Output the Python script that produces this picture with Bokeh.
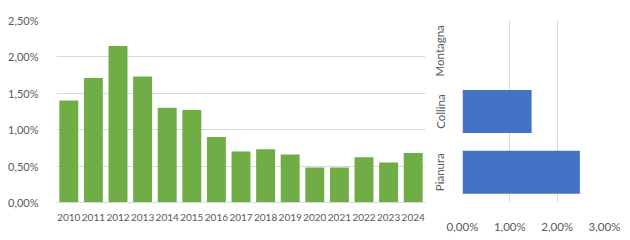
import math
from bokeh.plotting import figure
from bokeh.layouts import row
from bokeh.models import ColumnDataSource, CustomJSTickFormatter, FixedTicker
from bokeh.embed import file_html
from bokeh.resources import INLINE

years = ["2010", "2011", "2012", "2013", "2014", "2015", "2016", "2017",
         "2018", "2019", "2020", "2021", "2022", "2023", "2024"]
year_values = [1.40, 1.71, 2.15, 1.73, 1.30, 1.27, 0.90, 0.70,
               0.73, 0.66, 0.48, 0.48, 0.62, 0.55, 0.68]

zones = ["Pianura", "Collina", "Montagna"]
zone_values = [2.48, 1.46, 0.0]

y_ticks = [0, 0.5, 1.0, 1.5, 2.0, 2.5]
x_ticks = [0, 1, 2, 3]

FONT = "Lato"
TXT = "#595959"
GRID = "#D9D9D9"

fmt = CustomJSTickFormatter(code="return tick.toFixed(2).replace('.', ',') + '%';")

# Left chart
p1 = figure(width=430, height=240, x_range=years, y_range=(0, 2.5),
            output_backend="svg", toolbar_location=None,
            min_border_left=56, min_border_right=5, min_border_top=19, min_border_bottom=38)
p1.vbar(x="year", top="val", width=0.77, fill_color="#70AD47", line_color=None,
        source=ColumnDataSource(dict(year=years, val=year_values)))
p1.outline_line_color = None
p1.xgrid.grid_line_color = None
p1.ygrid.grid_line_color = GRID
p1.yaxis.ticker = FixedTicker(ticks=y_ticks)
p1.yaxis.formatter = fmt
p1.yaxis.axis_line_color = None
p1.yaxis.major_tick_line_color = None
p1.yaxis.minor_tick_line_color = None
p1.yaxis.major_label_standoff = 12
p1.yaxis.major_label_text_font_size = "11px"
p1.xaxis.axis_line_color = GRID
p1.xaxis.major_tick_line_color = None
p1.xaxis.major_label_standoff = 5
p1.xaxis.major_label_text_font_size = "10px"
for ax in (p1.xaxis, p1.yaxis):
    ax.major_label_text_font = FONT
    ax.major_label_text_color = TXT

# Right chart
p2 = figure(width=200, height=240, y_range=zones, x_range=(0, 3),
            output_backend="svg", toolbar_location=None,
            min_border_left=28, min_border_right=26, min_border_top=20, min_border_bottom=30)
p2.hbar(y="zone", right="val", height=0.71, fill_color="#4472C4", line_color=None,
        source=ColumnDataSource(dict(zone=zones, val=zone_values)))
p2.outline_line_color = None
p2.ygrid.grid_line_color = None
p2.xgrid.grid_line_color = GRID
p2.xaxis.ticker = FixedTicker(ticks=x_ticks)
p2.xaxis.formatter = fmt
p2.xaxis.axis_line_color = None
p2.xaxis.major_tick_line_color = None
p2.xaxis.minor_tick_line_color = None
p2.xaxis.major_label_standoff = 11
p2.yaxis.axis_line_color = None
p2.yaxis.major_tick_line_color = None
p2.yaxis.major_label_orientation = "parallel"
p2.yaxis.major_label_standoff = 10
for ax in (p2.xaxis, p2.yaxis):
    ax.major_label_text_font = FONT
    ax.major_label_text_font_size = "11.5px"
    ax.major_label_text_color = TXT

layout = row(p1, p2, spacing=0)
open("out.html", "w").write(file_html(layout, INLINE))
